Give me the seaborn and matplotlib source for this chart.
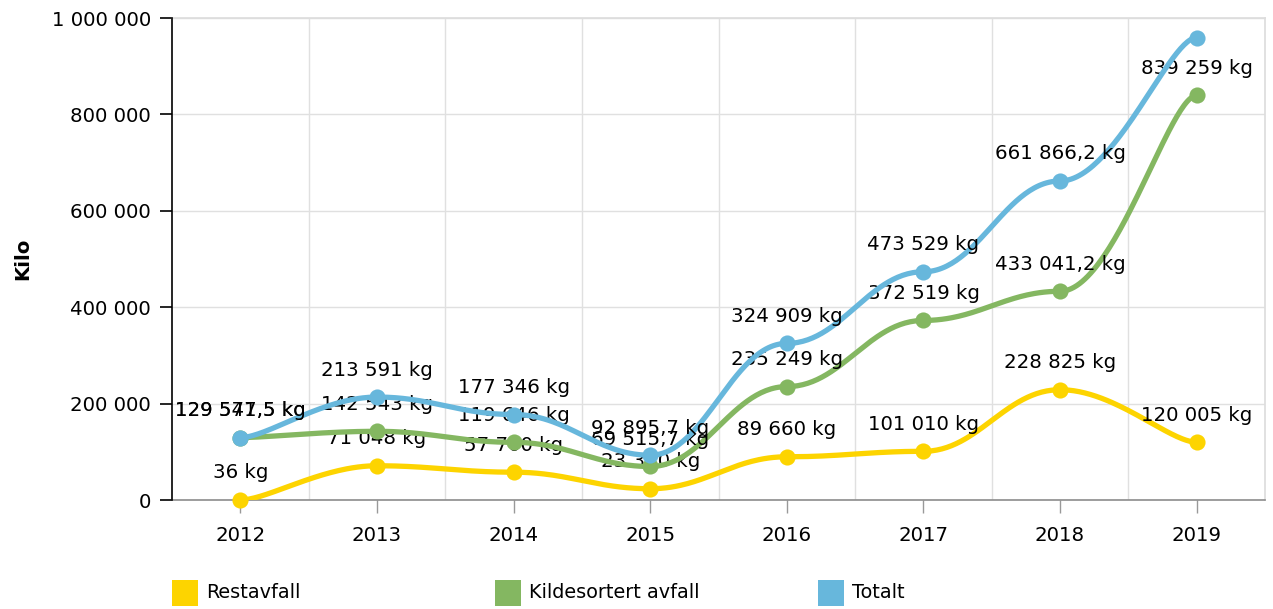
import numpy as np
import pandas as pd
import matplotlib
matplotlib.use("Agg")
import matplotlib.pyplot as plt
from matplotlib.patches import Rectangle
from matplotlib.ticker import FuncFormatter, MultipleLocator, FixedLocator
import seaborn as sns

years = ["2012", "2013", "2014", "2015", "2016", "2017", "2018", "2019"]
restavfall = [36, 71048, 57700, 23380, 89660, 101010, 228825, 120005]
kildesortert = [129541.5, 142543, 119646, 69515.7, 235249, 372519, 433041.2, 839259]
totalt = [129577.5, 213591, 177346, 92895.7, 324909, 473529, 661866.2, 959264]

series_names = ["Restavfall", "Kildesortert avfall", "Totalt"]
series_values = [restavfall, kildesortert, totalt]
colors = ["#FDD400", "#84B761", "#67B7DC"]

sns.set_theme(style="white")
plt.rcParams["font.family"] = ["DejaVu Sans"]
FS = 14.2


def fmt_num(v):
    s = f"{v:,.1f}".replace(",", " ").replace(".", ",")
    if s.endswith(",0"):
        s = s[:-2]
    return s


def tension_curve(xs, ys, tension_x=0.8, tension_y=1.0, n=60):
    xs = np.asarray(xs, float)
    ys = np.asarray(ys, float)
    ax_ = 1 - tension_x + 1e-5
    ay_ = 1 - tension_y + 1e-5
    px, py = [], []
    t = np.linspace(0, 1, n)
    m = len(xs)
    for i in range(m - 1):
        i0 = max(i - 1, 0)
        i3 = min(i + 2, m - 1)
        p0 = (xs[i0], ys[i0]); p1 = (xs[i], ys[i])
        p2 = (xs[i + 1], ys[i + 1]); p3 = (xs[i3], ys[i3])
        c1 = (p1[0] + ax_ * (p2[0] - p0[0]), p1[1] + ay_ * (p2[1] - p0[1]))
        c2 = (p2[0] - ax_ * (p3[0] - p1[0]), p2[1] - ay_ * (p3[1] - p1[1]))
        for k in range(2):
            b = (1 - t) ** 3 * p1[k] + 3 * (1 - t) ** 2 * t * c1[k] \
                + 3 * (1 - t) * t ** 2 * c2[k] + t ** 3 * p2[k]
            (px if k == 0 else py).extend(b)
    return np.array(px), np.array(py)


fig = plt.figure(figsize=(12.73, 6.09), dpi=100)
ax = fig.add_axes([172 / 1273, 1 - 500 / 609, (1265 - 172) / 1273, (500 - 18) / 609])

xpos = np.arange(len(years))
for k, (name, vals, col) in enumerate(zip(series_names, series_values, colors)):
    sx, sy = tension_curve(xpos, vals)
    curve = pd.DataFrame({"x": sx, "y": sy})
    sns.lineplot(data=curve, x="x", y="y", sort=False, estimator=None, ax=ax,
                 color=col, linewidth=3.8, zorder=2 + 2 * k, solid_capstyle="round")
    pts = pd.DataFrame({"x": xpos, "y": vals})
    sns.scatterplot(data=pts, x="x", y="y", ax=ax, color=col, s=135,
                    edgecolor=col, linewidth=0, zorder=2 + 2 * k, clip_on=False)
    for xi, v in zip(xpos, vals):
        if v > 940000:
            continue
        ax.annotate(f"{fmt_num(v)} kg", (xi, v), xytext=(0, 27), textcoords="offset pixels",
                    ha="center", va="center", fontsize=FS, color="black", zorder=3 + 2 * k)

ax.set_xlim(-0.5, len(years) - 0.5)
ax.set_ylim(0, 1000000)
ax.yaxis.set_major_locator(MultipleLocator(200000))
ax.yaxis.set_major_formatter(FuncFormatter(lambda v, p: f"{int(v):,}".replace(",", " ")))
ax.set_xticks(xpos)
ax.set_xticklabels(years)
ax.xaxis.set_minor_locator(FixedLocator(np.arange(0.5, len(years) - 1, 1.0)))
ax.grid(True, which="major", axis="y", color="#e0e0e0", linewidth=1)
ax.grid(True, which="minor", axis="x", color="#e0e0e0", linewidth=1)
ax.grid(False, which="major", axis="x")
ax.set_axisbelow(True)
ax.set_xlabel("")
ax.set_ylabel("Kilo", fontsize=FS, fontweight="bold", color="black")
ax.yaxis.set_label_coords(-140 / (1265 - 172), 0.5)

ax.tick_params(axis="y", which="major", direction="out", length=9, width=1.2,
               color="black", labelsize=FS, labelcolor="black", pad=6, left=True)
ax.tick_params(axis="x", which="major", direction="out", length=9, width=1,
               color="#999999", labelsize=FS, labelcolor="black", pad=10, bottom=True)
ax.tick_params(axis="x", which="minor", length=0)

ax.spines["left"].set_color("black")
ax.spines["left"].set_linewidth(1.2)
ax.spines["bottom"].set_color("#8c8c8c")
ax.spines["bottom"].set_linewidth(1.2)
ax.spines["top"].set_color("#dddddd")
ax.spines["right"].set_color("#dddddd")
for s in ax.spines.values():
    s.set_zorder(1)
ax.spines["left"].set_zorder(10)

# legend
leg_x = [172, 495, 818]
for lx, name, col in zip(leg_x, series_names, colors):
    fig.patches.append(Rectangle((lx / 1273, 1 - 606 / 609), 26 / 1273, 26 / 609,
                                 transform=fig.transFigure, facecolor=col, edgecolor="none"))
    fig.text((lx + 34) / 1273, 1 - 593 / 609, name, fontsize=13.9, va="center", ha="left",
             color="black")

fig.savefig("out.png", dpi=100)
